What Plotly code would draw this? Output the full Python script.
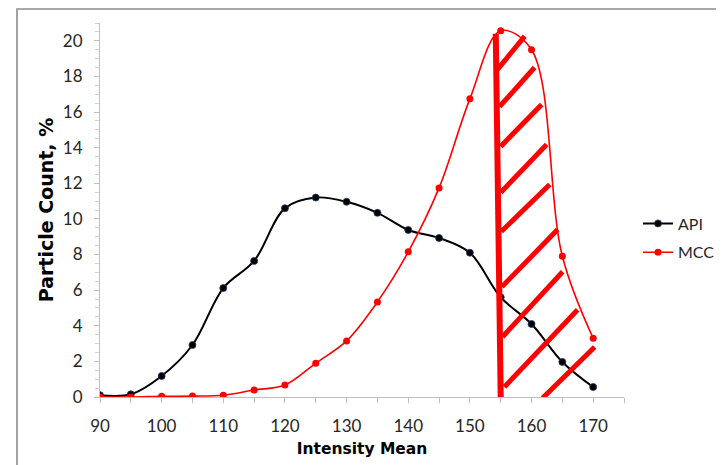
import plotly.graph_objects as go

# ---- data ----
intensity = [90, 95, 100, 105, 110, 115, 120, 125, 130, 135, 140, 145, 150, 155, 160, 165, 170]
api = [0.10, 0.15, 1.18, 2.92, 6.12, 7.64, 10.60, 11.20, 10.96, 10.34, 9.38, 8.93, 8.10, 5.60, 4.10, 1.97, 0.56]
mcc = [0.00, 0.00, 0.04, 0.05, 0.10, 0.39, 0.67, 1.90, 3.15, 5.34, 8.15, 11.74, 16.74, 20.56, 19.50, 7.90, 3.30]

x_tick_vals = [90, 100, 110, 120, 130, 140, 150, 160, 170]
y_tick_vals = [0, 2, 4, 6, 8, 10, 12, 14, 16, 18, 20]

# hand-drawn highlight (hatched region), in data units: (x0, y0, x1, y1)
hatch_border = (154.2, 20.4, 155.0, 0.0)
hatch_lines = [
    (154.5, 18.4, 158.9, 20.26),
    (154.8, 16.3, 160.5, 18.5),
    (155.0, 14.07, 161.65, 16.43),
    (155.0, 11.48, 162.46, 14.18),
    (155.1, 9.29, 162.95, 11.93),
    (155.2, 6.19, 164.24, 9.40),
    (155.3, 3.38, 165.05, 7.03),
    (155.6, 0.56, 167.48, 4.90),
    (161.8, -0.06, 170.24, 2.81),
]

FONT = "Lato"
TITLE_FONT = "DejaVu Sans"
W, H = 716, 457  # page body adds an 8px margin on top/left

fig = go.Figure()

fig.add_trace(go.Scatter(
    x=intensity, y=api, name="API", mode="lines+markers", legendgroup="a",
    line=dict(color="black", width=2, shape="spline", smoothing=1.0),
    marker=dict(color="black", size=7, line=dict(color="#1f3b66", width=0.8)),
))
fig.add_trace(go.Scatter(
    x=intensity, y=mcc, name="MCC", mode="lines+markers", legendgroup="b",
    line=dict(color="#ff0000", width=1.6, shape="spline", smoothing=1.0),
    marker=dict(color="#ff0000", size=7),
))

shapes = []
x0, y0, x1, y1 = hatch_border
shapes.append(dict(type="line", xref="x", yref="y", x0=x0, y0=y0, x1=x1, y1=y1,
                   line=dict(color="#ff0000", width=6), layer="above"))
for (a, b, c, d) in hatch_lines:
    shapes.append(dict(type="line", xref="x", yref="y", x0=a, y0=b, x1=c, y1=d,
                       line=dict(color="#ff0000", width=5), layer="above"))
# outer frame of the chart
shapes.append(dict(type="rect", xref="paper", yref="paper",
                   x0=(9 - 92) / 524, x1=1.25, y0=-0.25, y1=(389 - 1) / 374,
                   line=dict(color="#8c8c8c", width=1.6), layer="below"))

fig.update_layout(
    width=W, height=H,
    margin=dict(l=92, r=100, t=15, b=68, autoexpand=False),
    paper_bgcolor="white", plot_bgcolor="white",
    font=dict(family=FONT, size=17, color="#262626"),
    showlegend=True,
    legend=dict(xref="container", yref="container",
                x=630 / W, xanchor="left", y=(H - 230) / H, yanchor="middle",
                font=dict(family=FONT, size=16, color="#262626"),
                bgcolor="rgba(0,0,0,0)", itemwidth=30, borderwidth=0,
                traceorder="grouped", tracegroupgap=5),
    shapes=shapes,
    xaxis=dict(
        range=[90, 175], tickmode="array", tickvals=x_tick_vals,
        ticktext=[str(v) for v in x_tick_vals], automargin=False,
        showline=True, linecolor="#bfbfbf", linewidth=1.2,
        ticks="outside", ticklen=5, tickcolor="#bfbfbf", ticklabelstandoff=8,
        minor=dict(dtick=5, tick0=90, ticks="outside", ticklen=5, tickcolor="#bfbfbf"),
        showgrid=False, zeroline=False,
        tickfont=dict(family=FONT, size=17, color="#262626"),
        title=dict(text="<b>Intensity Mean</b>", font=dict(family=TITLE_FONT, size=15.5, color="black"), standoff=8),
    ),
    yaxis=dict(
        range=[0, 21], tickmode="array", tickvals=y_tick_vals,
        ticktext=[str(v) for v in y_tick_vals], automargin=False,
        showline=True, linecolor="#bfbfbf", linewidth=1.2,
        ticks="outside", ticklen=5, tickcolor="#bfbfbf", ticklabelstandoff=8,
        minor=dict(dtick=0.5, tick0=0, ticks="outside", ticklen=4, tickcolor="#d0d0d0"),
        showgrid=False, zeroline=False,
        tickfont=dict(family=FONT, size=17, color="#262626"),
        title=dict(text="<b>Particle Count, %</b>", font=dict(family=TITLE_FONT, size=19, color="black"), standoff=4),
    ),
)

fig.write_html("out.html")
